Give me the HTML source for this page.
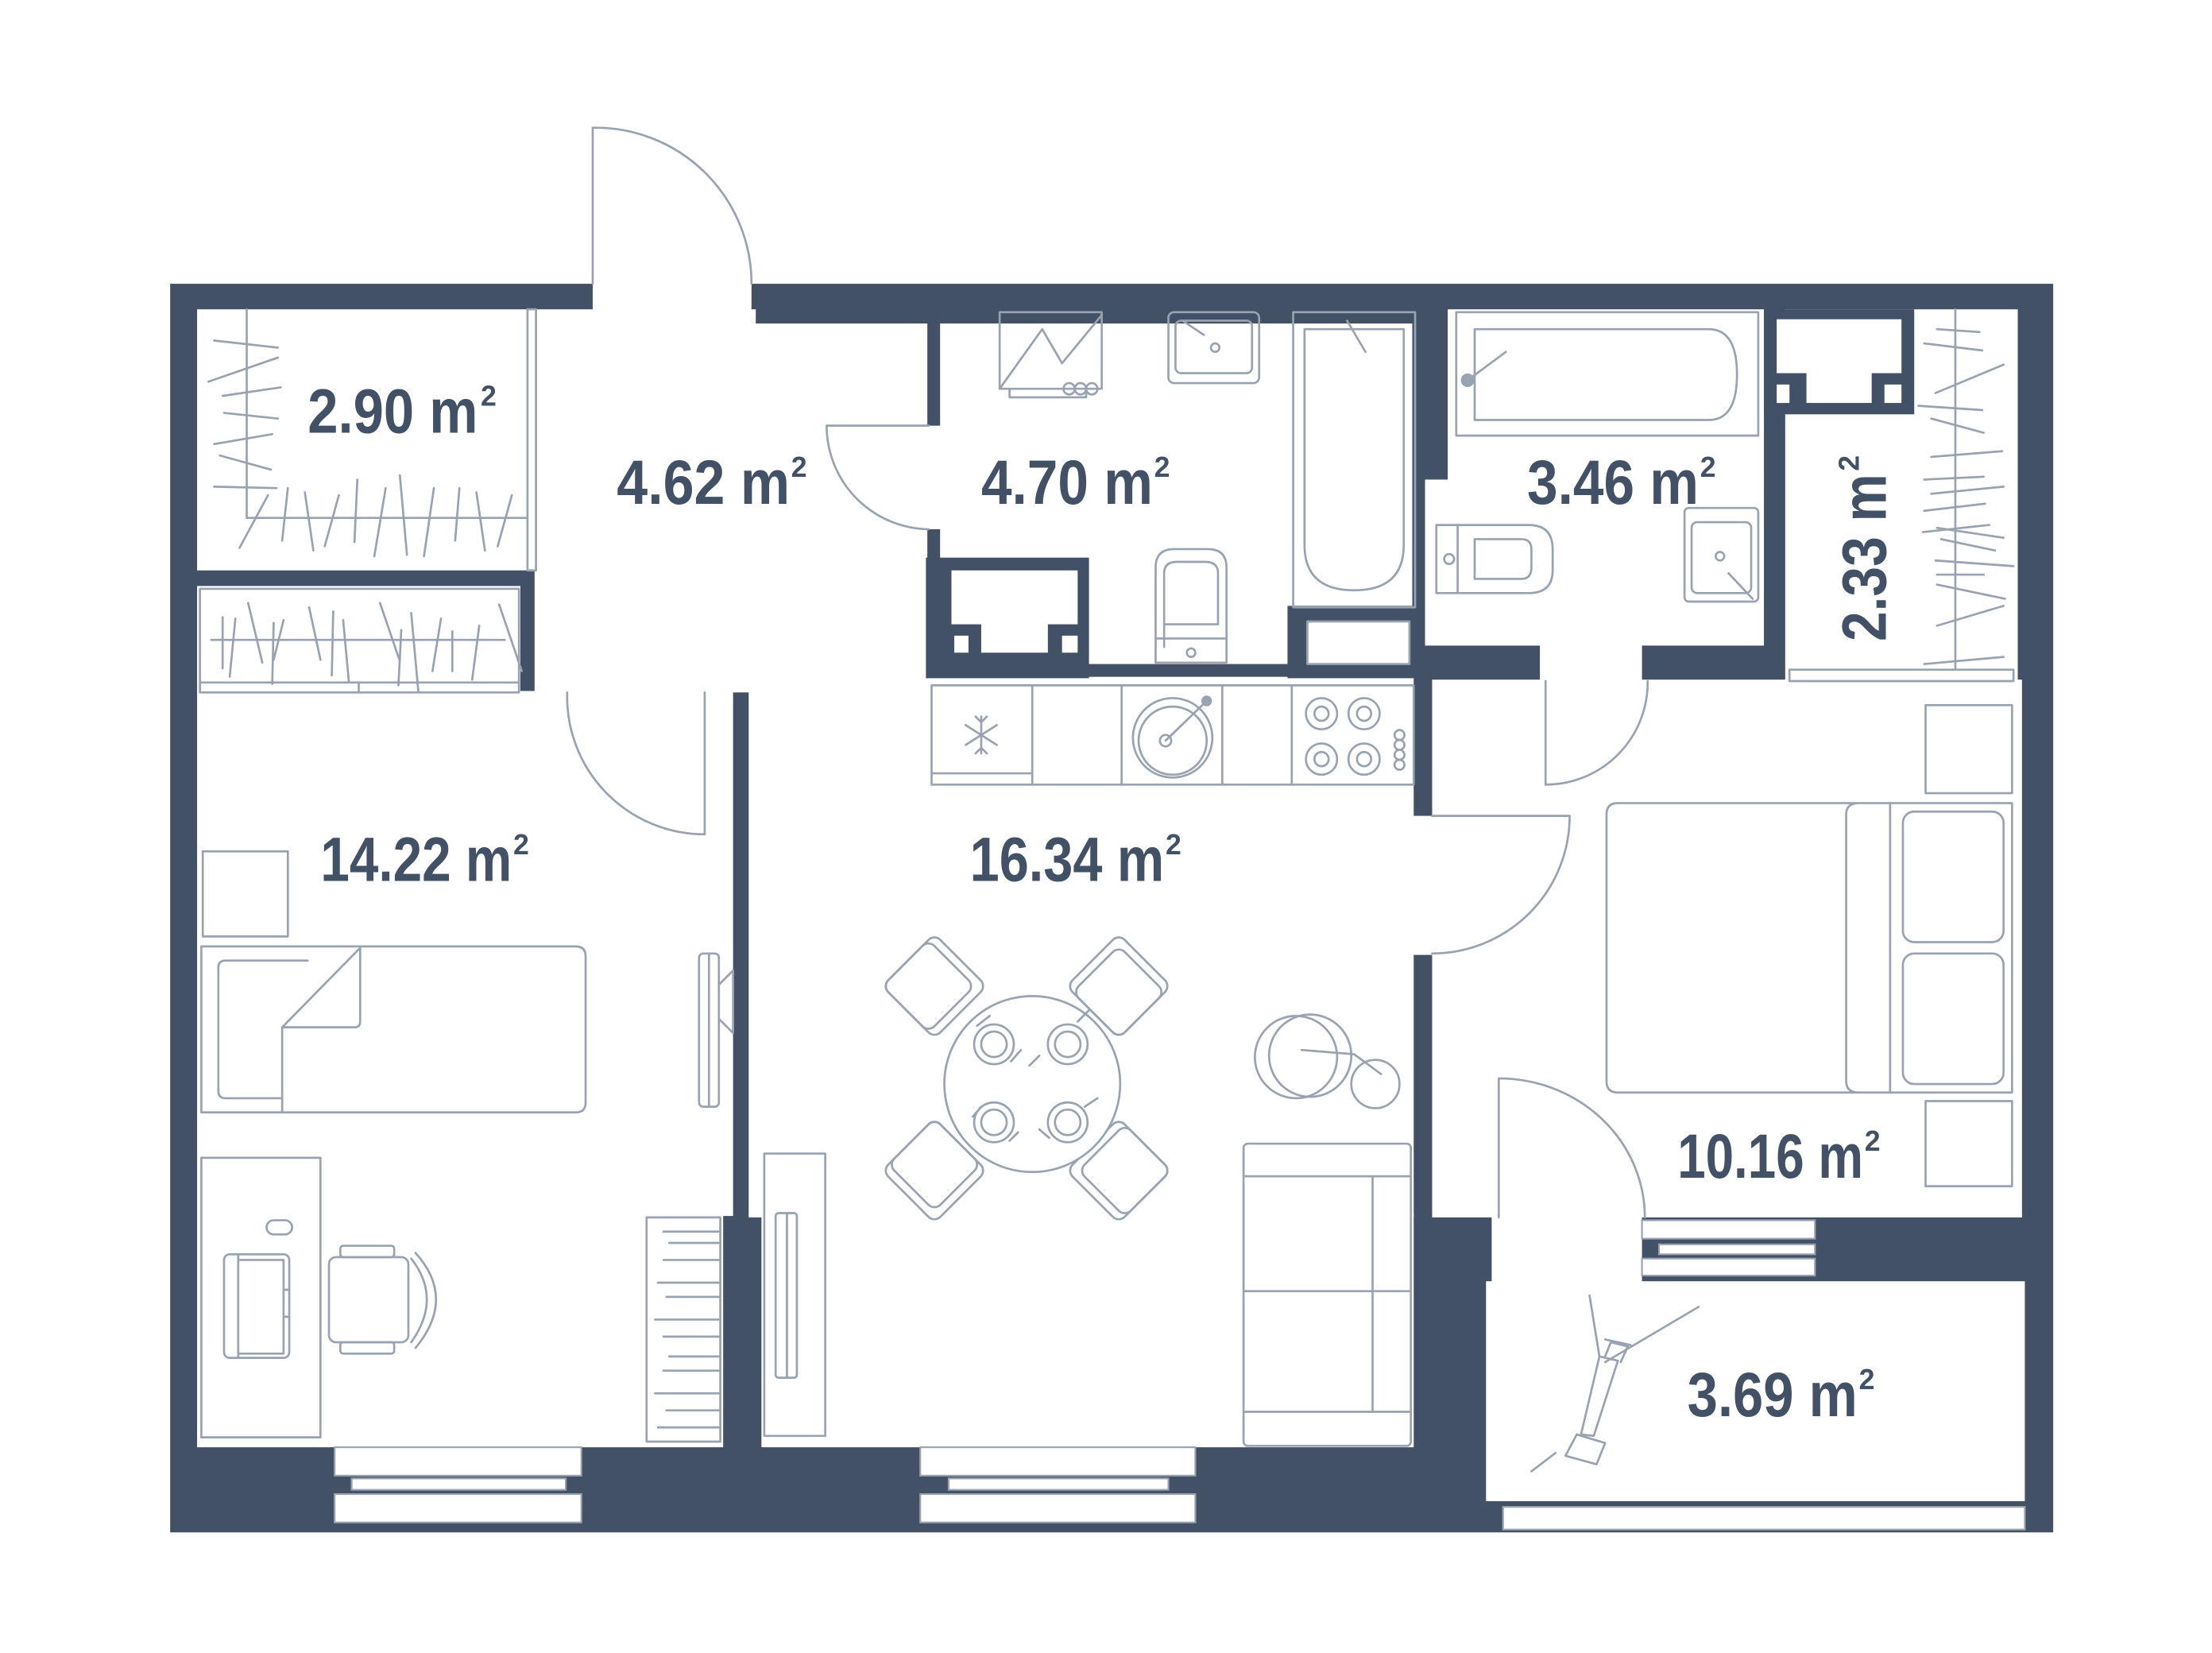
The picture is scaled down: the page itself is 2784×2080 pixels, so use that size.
<!DOCTYPE html>
<html><head><meta charset="utf-8"><style>
html,body{margin:0;padding:0;background:#fff;}
svg{display:block}
text{font-family:"Liberation Sans",sans-serif;font-weight:bold;fill:#435166}
</style></head><body>
<svg width="2784" height="2080" viewBox="0 0 1560 1165" preserveAspectRatio="none" xmlns="http://www.w3.org/2000/svg">
<rect width="1560" height="1165" fill="#fff"/>
<rect x="120" y="200" width="1328" height="880" fill="#435166"/>
<g fill="#fff">
<rect x="139" y="218" width="240" height="184"/>
<rect x="378" y="218" width="155" height="12"/>
<rect x="377" y="228" width="277" height="260"/>
<rect x="418" y="196" width="112" height="24"/>
<rect x="397" y="476" width="98" height="14"/>
<rect x="528" y="477" width="469" height="381"/>
<rect x="537" y="855" width="460" height="165"/>
<rect x="139" y="413" width="228" height="607"/>
<rect x="365" y="487" width="152" height="370"/>
<rect x="365" y="855" width="145" height="165"/>
<rect x="663" y="228" width="333" height="240"/>
<rect x="651" y="300" width="14" height="73"/>
<rect x="1021" y="218" width="223" height="121"/>
<rect x="1005" y="338" width="239" height="117"/>
<rect x="1086" y="453" width="72" height="29"/>
<rect x="1259" y="218" width="164" height="262"/>
<rect x="1010" y="479" width="416" height="379"/>
<rect x="995" y="575" width="17" height="98"/>
<rect x="1048" y="903" width="380" height="155"/>
<rect x="1052" y="856" width="106" height="49"/>
</g>
<g fill="#435166">
<rect x="653" y="393" width="115" height="85"/>
<rect x="908" y="427" width="92" height="51"/>
<rect x="1244" y="218" width="106" height="74"/>
</g>
<g fill="#fff">
<rect x="671" y="402" width="89" height="38"/><rect x="692" y="439" width="47" height="21"/>
<rect x="673" y="448" width="10" height="12"/><rect x="749" y="448" width="11" height="12"/>
<rect x="1253" y="225" width="88" height="38"/><rect x="1274" y="262" width="46" height="22"/>
<rect x="1253" y="271" width="9" height="13"/><rect x="1329" y="271" width="12" height="13"/>
<rect x="922" y="438" width="72" height="30"/>
</g>
<g fill="#fff" stroke="#98a2b0" stroke-width="1.2">
<rect x="236" y="1020" width="174" height="20"/><rect x="248" y="1042" width="151" height="8"/><rect x="236" y="1053" width="174" height="20"/>
<rect x="649" y="1020" width="194" height="20"/><rect x="669" y="1042" width="155" height="8"/><rect x="649" y="1053" width="194" height="20"/>
<rect x="1158" y="860" width="122" height="13"/><rect x="1170" y="877" width="110" height="7"/><rect x="1158" y="887" width="122" height="12"/>
<rect x="1060" y="1062" width="368" height="16"/>
</g>
<g fill="none" stroke="#98a2b0" stroke-width="1.5" stroke-linecap="round" stroke-linejoin="round">
<rect x="922" y="438" width="72" height="30"/>
<path d="M418 200 V90 A110 110 0 0 1 530 200"/>
<path d="M655 300 H583 A73 73 0 0 0 655 373"/>
<path d="M497 488 V588 A97 97 0 0 1 400 488"/>
<path d="M1010 575 H1107 A97 97 0 0 1 1010 672"/>
<path d="M1090 480 V553 A72 72 0 0 0 1162 480"/>
<path d="M1057 858 V760 A103 98 0 0 1 1160 858"/>
<rect x="372" y="218" width="6" height="184"/>
<path d="M174 218 V365 H372"/>
<path d="M151 240 L196 245 M147 269 L196 252 M157 279 L198 273 M158 291 L196 295 M151 313 L192 306 M155 321 L191 331 M151 343 L195 344"/>
<path d="M189 349 L169 386 M203 344 L199 381 M215 347 L221 388 M239 349 L229 385 M252 338 L250 382 M272 344 L264 392 M282 335 L287 391 M306 344 L299 392 M324 344 L321 381 M336 347 L342 388 M361 349 L351 385"/>
<rect x="141" y="415" width="225" height="73"/><path d="M141 481 H366 M253 481 V488 M149 451 H356"/>
<path d="M157 435 L157 471 M166 436 L162 477 M175 425 L185 467 M193 439 L192 482 M200 437 L193 465 M218 428 L226 465 M235 431 L234 476 M242 437 L246 480 M268 425 L282 466 M283 444 L281 483 M290 432 L295 487 M311 436 L305 473 M319 445 L319 473 M338 441 L333 479 M352 426 L368 473"/>
<rect x="143" y="600" width="60" height="60"/>
<path d="M142 667 H406 Q413 667 413 674 V777 Q413 784 406 784 H142 Z"/>
<path d="M217 677 H159 Q154 677 154 682 V769 Q154 774 159 774 H199"/>
<path d="M199 784 V724 L254 668 V720 Q254 724 250 724 H199"/>
<rect x="493" y="672" width="14" height="108" rx="3"/><path d="M500 672 V780 M507 694 L517 684 V728 L507 718"/>
<rect x="142" y="816" width="84" height="197"/>
<rect x="188" y="860" width="18" height="10" rx="5"/>
<rect x="158" y="884" width="46" height="73" rx="4"/><path d="M168 884 V957 M168 888 H200 V954 H168 M200 909 H204 M200 928 H204"/>
<rect x="232" y="886" width="56" height="60" rx="5"/><rect x="240" y="878" width="38" height="8" rx="2"/><rect x="240" y="946" width="38" height="8" rx="2"/>
<path d="M290 887 Q312 915 290 946 M293 883 Q322 915 293 950"/>
<rect x="456" y="858" width="52" height="158"/>
<path d="M468 868 H507 M472 876 H507 M468 888 H507 M464 904 H507 M470 914 H507 M462 930 H507 M468 942 H507 M472 956 H507 M468 966 H507 M462 982 H507 M470 994 H507 M464 1006 H507"/>
<rect x="657" y="483" width="340" height="70"/>
<path d="M728 483 V553 M791 483 V553 M862 483 V553 M911 483 V553 M657 545 H728"/>
<path d="M692 505 V531 M681 511 L703 525 M681 525 L703 511 M688 505 L692 509 L696 505 M688 531 L692 527 L696 531"/>
<circle cx="827" cy="520" r="28"/><circle cx="827" cy="522" r="24"/><circle cx="822" cy="522" r="4"/><path d="M822 522 L851 494"/><circle cx="851" cy="494" r="3" fill="#98a2b0"/>
<circle cx="932" cy="503" r="11"/><circle cx="932" cy="503" r="5"/><circle cx="962" cy="503" r="11"/><circle cx="962" cy="503" r="5"/>
<circle cx="932" cy="535" r="11"/><circle cx="932" cy="535" r="5"/><circle cx="962" cy="535" r="11"/><circle cx="962" cy="535" r="5"/>
<circle cx="987" cy="518" r="3.5"/><circle cx="987" cy="525" r="3.5"/><circle cx="987" cy="532" r="3.5"/><circle cx="987" cy="539" r="3.5"/>
<rect x="705" y="220" width="72" height="54"/><path d="M705 274 L735 232 L749 256 L777 222 M712 274 V280 H766 V274"/>
<circle cx="754" cy="274" r="4"/><circle cx="762" cy="274" r="4"/><circle cx="770" cy="274" r="4"/>
<rect x="824" y="220" width="64" height="50" rx="4"/><rect x="829" y="226" width="54" height="37" rx="4"/><circle cx="857" cy="245" r="3"/><path d="M834 226 L849 236"/>
<rect x="912" y="220" width="86" height="208"/><path d="M920 232 H990 V384 Q990 416 955 416 Q920 416 920 384 Z"/><path d="M950 226 L963 248"/>
<path d="M815 467 V400 Q815 387 828 387 H852 Q865 387 865 400 V467 Z M815 450 H865 M821 456 V404 Q821 396 830 396 H850 Q859 396 859 404 V440 H821"/><circle cx="840" cy="460" r="3"/>
<rect x="1027" y="220" width="213" height="87"/><path d="M1040 232 H1205 Q1225 232 1225 264 Q1225 296 1205 296 H1040 Z M1035 268 L1062 248"/><circle cx="1035" cy="268" r="4" fill="#98a2b0"/>
<path d="M1013 370 H1078 Q1095 370 1095 387 V402 Q1095 418 1078 418 H1013 Z M1028 370 V418 M1040 380 H1073 Q1080 380 1080 387 V400 Q1080 408 1073 408 H1040 Z"/><circle cx="1022" cy="394" r="3.5"/>
<rect x="1188" y="358" width="52" height="66" rx="3"/><rect x="1193" y="368" width="42" height="50" rx="4"/><circle cx="1213" cy="392" r="3"/><path d="M1219 404 L1236 422"/>
<rect x="1262" y="472" width="158" height="8"/><path d="M1379 218 V472"/>
<path d="M1366 232 L1396 234 M1357 242 L1398 247 M1365 277 L1413 257 M1353 286 L1398 289 M1362 295 L1399 305 M1362 322 L1412 318 M1357 338 L1399 336 M1362 348 L1413 343 M1357 360 L1400 355 M1366 372 L1413 379 M1356 375 L1403 370 M1369 380 L1407 388 M1365 395 L1420 399 M1366 405 L1399 405 M1366 412 L1414 422 M1366 441 L1413 427 M1357 468 L1413 463"/>
<g transform="rotate(45 659 695)"><rect x="633" y="669" width="52" height="52" rx="6"/><rect x="633" y="675" width="46" height="46" rx="6"/></g>
<g transform="rotate(45 789 695)"><rect x="763" y="669" width="52" height="52" rx="6"/><rect x="769" y="675" width="46" height="46" rx="6"/></g>
<g transform="rotate(45 659 825)"><rect x="633" y="799" width="52" height="52" rx="6"/><rect x="633" y="799" width="46" height="46" rx="6"/></g>
<g transform="rotate(45 789 825)"><rect x="763" y="799" width="52" height="52" rx="6"/><rect x="769" y="799" width="46" height="46" rx="6"/></g>
<circle cx="728" cy="764" r="62" fill="#fff"/>
<circle cx="701" cy="736" r="14"/><circle cx="701" cy="736" r="9"/>
<circle cx="753" cy="736" r="14"/><circle cx="753" cy="736" r="9"/>
<circle cx="701" cy="791" r="14"/><circle cx="701" cy="791" r="9"/>
<circle cx="753" cy="791" r="14"/><circle cx="753" cy="791" r="9"/>
<path d="M689 723 L698 716 M713 748 L720 740 M733 744 L726 751 M760 720 L768 712 M692 780 L686 787 M712 804 L718 798 M740 802 L733 796 M765 780 L774 774"/>
<rect x="539" y="813" width="43" height="199"/><rect x="547" y="855" width="15" height="116" rx="2"/><path d="M555 855 V971"/>
<circle cx="914" cy="745" r="29"/><circle cx="924" cy="744" r="29"/><circle cx="970" cy="764" r="17"/><path d="M918 740 L955 743 L974 757"/>
<rect x="877" y="806" width="118" height="213" rx="3"/><path d="M877 829 H995 M877 910 H995 M877 995 H995 M968 829 V995"/>
<rect x="1358" y="497" width="61" height="62"/><rect x="1358" y="776" width="61" height="60"/>
<path d="M1141 566 H1419 V770 H1141 Q1133 770 1133 762 V574 Q1133 566 1141 566 Z M1333 566 V770 M1311 566 Q1302 566 1302 574 V762 Q1302 770 1311 770"/>
<rect x="1342" y="572" width="71" height="92" rx="8"/><rect x="1342" y="672" width="71" height="92" rx="8"/>
<path d="M1121 913 L1128 956 M1132 960 L1198 921 M1097 1024 L1080 1037"/>
<path d="M1128 956 L1141 959 L1124 1012 L1115 1011 Z M1132 956 L1136 946 L1148 949 L1143 960 M1132 944 L1150 948 M1112 1011 L1132 1017 L1126 1032 L1104 1026 Z"/>
</g>
<text x="217" y="305" font-size="44" textLength="120" lengthAdjust="spacingAndGlyphs">2.90 m</text><text x="339" y="286" font-size="20">2</text>
<text x="435" y="355" font-size="44" textLength="122" lengthAdjust="spacingAndGlyphs">4.62 m</text><text x="558" y="336" font-size="20">2</text>
<text x="692" y="355" font-size="44" textLength="121" lengthAdjust="spacingAndGlyphs">4.70 m</text><text x="814" y="336" font-size="20">2</text>
<text x="1077" y="355" font-size="44" textLength="121" lengthAdjust="spacingAndGlyphs">3.46 m</text><text x="1199" y="336" font-size="20">2</text>
<text x="226" y="621" font-size="44" textLength="135" lengthAdjust="spacingAndGlyphs">14.22 m</text><text x="362" y="602" font-size="20">2</text>
<text x="684" y="621" font-size="44" textLength="137" lengthAdjust="spacingAndGlyphs">16.34 m</text><text x="822" y="602" font-size="20">2</text>
<text x="1183" y="830" font-size="44" textLength="131" lengthAdjust="spacingAndGlyphs">10.16 m</text><text x="1315" y="811" font-size="20">2</text>
<text x="1190" y="998" font-size="44" textLength="120" lengthAdjust="spacingAndGlyphs">3.69 m</text><text x="1311" y="979" font-size="20">2</text>
<g transform="translate(1330 452) rotate(-90)"><text x="0" y="0" font-size="44" textLength="118" lengthAdjust="spacingAndGlyphs">2.33 m</text><text x="120" y="-19" font-size="20">2</text></g>
</svg>
</body></html>
